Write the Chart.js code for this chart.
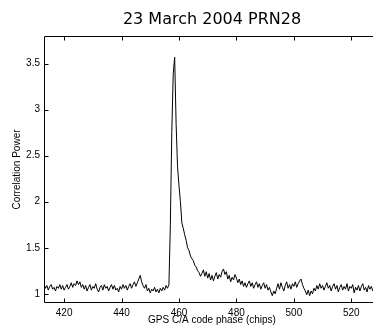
<!DOCTYPE html>
<html><head><meta charset="utf-8">
<script src="https://cdn.jsdelivr.net/npm/chart.js@4"></script>
<style>html,body{margin:0;padding:0;background:#fff;overflow:hidden;width:373px;height:330px}
canvas{display:block}</style></head>
<body><canvas id="c" width="381" height="330" style="width:381px;height:330px"></canvas>
<script>
const chartTitle = '23 March 2004 PRN28';
const xTitle = 'GPS C/A code phase (chips)';
const yTitle = 'Correlation Power';
const xTicks = [420, 440, 460, 480, 500, 520];
const yTicks = [1, 1.5, 2, 2.5, 3, 3.5];
const xRange = [413, 530];
const yRange = [0.9, 3.8];
const phaseStep = 0.5;

const preStart = 413;
const powerPre = [
1.11,1.06,1.09,1.04,1.08,1.10,1.05,1.07,1.03,1.08,
1.06,1.10,1.05,1.09,1.04,1.07,1.10,1.05,1.08,1.12,
1.07,1.11,1.09,1.14,1.10,1.13,1.07,1.10,1.05,1.09,
1.03,1.07,1.10,1.04,1.08,1.06,1.11,1.05,1.02,1.07,
1.09,1.04,1.10,1.06,1.08,1.03,1.07,1.10,1.05,1.09,
1.04,1.06,1.02,1.08,1.05,1.10,1.06,1.09,1.04,1.08,
1.11,1.06,1.10,1.13,1.08,1.12,1.16,1.20,1.13,1.09,
1.06,1.10,1.03,1.06,1.01,1.05,1.03,1.07,1.02,1.05,
1.01,1.06,1.03,1.07,1.04,1.09,1.06];

const peakStart = 456.5;
const powerPeak = [
1.10,1.75,2.75,3.39,3.57,2.85,2.38,2.18,2.00,1.77,
1.71,1.64,1.58,1.50,1.47,1.41,1.38,1.36,1.31,1.29,
1.25,1.23,1.19,1.22];

const postStart = 468.5;
const powerPost = [
1.26,1.19,1.24,1.17,1.22,1.15,1.20,1.14,1.19,1.23,
1.16,1.21,1.18,1.24,1.27,1.21,1.24,1.16,1.20,1.13,
1.18,1.15,1.21,1.17,1.12,1.16,1.10,1.14,1.08,1.12,
1.07,1.11,1.14,1.08,1.12,1.06,1.10,1.13,1.07,1.11,
1.05,1.09,1.12,1.06,1.10,1.04,1.07,1.02,0.98,1.03,
1.00,1.06,1.11,1.05,1.12,1.07,1.03,1.09,1.13,1.06,
1.10,1.05,1.11,1.08,1.13,1.07,1.11,1.14,1.16,1.10,
1.06,1.03,0.99,1.04,0.98,1.03,1.00,1.06,1.03,1.09,
1.05,1.11,1.06,1.09,1.04,1.08,1.12,1.06,1.09,1.03,
1.08,1.11,1.05,1.09,1.02,1.07,1.10,1.04,1.08,1.05,
1.11,1.03,1.08,1.06,1.10,1.01,1.07,1.04,1.09,1.03,
1.08,1.11,1.04,1.07,1.02,1.09,1.05,1.08,1.03,1.07,
1.10,1.04,1.08,1.05];

function toPoints(start, vals) { return vals.map((v, i) => ({ x: start + i * phaseStep, y: v })); }
const points = [].concat(toPoints(preStart, powerPre), toPoints(peakStart, powerPeak), toPoints(postStart, powerPost));

const SANS = '"Liberation Sans", Arial, sans-serif';

const frame = {
  id: 'frame',
  afterDraw(chart) {
    const { ctx, chartArea: a, scales: { x, y } } = chart;
    ctx.save();
    ctx.strokeStyle = '#000';
    ctx.lineWidth = 1;
    ctx.beginPath();
    const L = a.left + 0.5, T = a.top + 0.5, B = a.bottom - 0.5, R = a.right - 0.5;
    ctx.moveTo(L, B); ctx.lineTo(L, T); ctx.lineTo(R, T);
    ctx.moveTo(L, B); ctx.lineTo(R, B);
    const tl = 4;
    xTicks.forEach(v => {
      const px = Math.round(x.getPixelForValue(v)) + 0.5;
      ctx.moveTo(px, B); ctx.lineTo(px, B - tl);
      ctx.moveTo(px, T); ctx.lineTo(px, T + tl);
    });
    yTicks.forEach(v => {
      const py = Math.round(y.getPixelForValue(v)) + 0.5;
      ctx.moveTo(L, py); ctx.lineTo(L + tl, py);
    });
    ctx.stroke();
    ctx.fillStyle = '#000';
    ctx.font = '16px "DejaVu Sans", Verdana, sans-serif';
    ctx.textAlign = 'center';
    ctx.textBaseline = 'alphabetic';
    ctx.fillText(chartTitle, (a.left + a.right) / 2, 24);
    ctx.restore();
  }
};

new Chart(document.getElementById('c'), {
  type: 'line',
  data: { datasets: [{ data: points, borderColor: '#000', borderWidth: 1, pointRadius: 0, tension: 0, fill: false }] },
  options: {
    responsive: false, animation: false, devicePixelRatio: 1,
    layout: { padding: { top: 36, left: 0, right: 1, bottom: 0 } },
    plugins: { legend: { display: false }, tooltip: { enabled: false }, title: { display: false } },
    scales: {
      x: {
        type: 'linear', min: xRange[0], max: xRange[1],
        afterBuildTicks: s => { s.ticks = xTicks.map(v => ({ value: v })); },
        afterFit: s => { s.height = 27; },
        grid: { display: false, drawTicks: false },
        border: { display: false },
        ticks: { color: '#000', font: { family: SANS, size: 10 }, padding: 4, maxRotation: 0, autoSkip: false },
        title: { display: true, text: xTitle, color: '#000', font: { family: SANS, size: 10 }, padding: { top: 0, bottom: 4 } }
      },
      y: {
        type: 'linear', min: yRange[0], max: yRange[1],
        afterBuildTicks: s => { s.ticks = yTicks.map(v => ({ value: v })); },
        afterFit: s => { s.width = 44; },
        grid: { display: false, drawTicks: false },
        border: { display: false },
        ticks: { color: '#000', font: { family: SANS, size: 10 }, padding: 4, callback: v => String(v) },
        title: { display: true, text: yTitle, color: '#000', font: { family: SANS, size: 10 }, padding: { top: 11, bottom: 0 } }
      }
    }
  },
  plugins: [frame]
});
</script></body></html>
